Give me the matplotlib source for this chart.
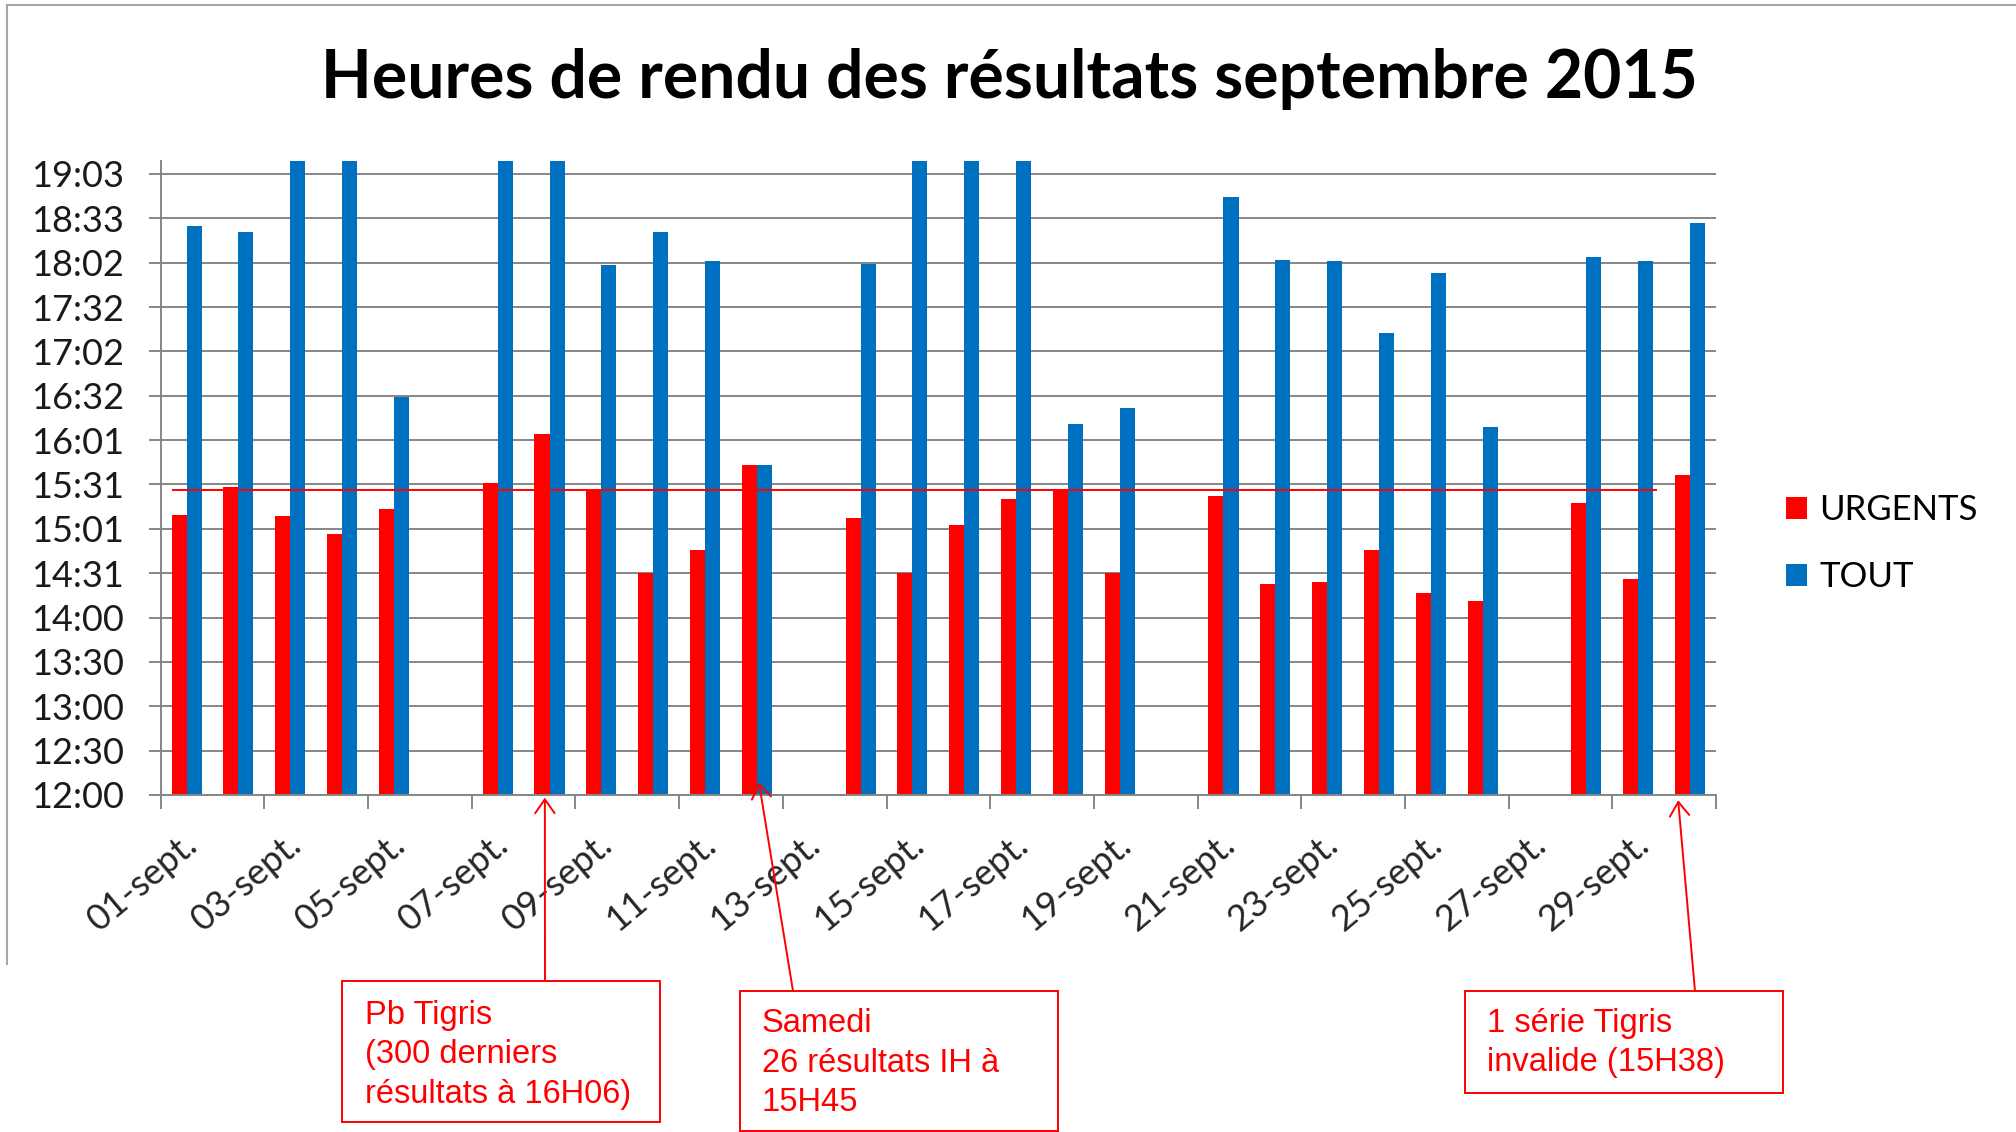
import matplotlib
matplotlib.use('Agg')
import matplotlib.pyplot as plt
from matplotlib.patches import Rectangle
from matplotlib.lines import Line2D
import matplotlib.transforms as mtransforms
import numpy as np

# ---------------- data ----------------
title = "Heures de rendu des résultats septembre 2015"
days = list(range(1, 31))
day_labels = [f"{d:02d}-sept." for d in days]
series_names = ["URGENTS", "TOUT"]
# times of delivery (HH:MM); None = no data (Sundays)
urgents = ['15:11', '15:30', '15:10', '14:58', '15:15', None, '15:33', '16:06', '15:28', '14:31',
           '14:47', '15:45', None, '15:09', '14:31', '15:04', '15:22', '15:28', '14:31', None,
           '15:24', '14:24', '14:25', '14:47', '14:18', '14:12', None, '15:19', '14:27', '15:38']
# values above 19:12 are cut off by the axis in the original (estimated)
tout = ['18:28', '18:24', '19:30', '19:30', '16:31', None, '19:30', '19:30', '18:01', '18:24',
        '18:04', '15:45', None, '18:02', '19:30', '19:30', '19:30', '16:13', '16:24', None,
        '18:48', '18:05', '18:04', '17:15', '17:56', '16:11', None, '18:07', '18:04', '18:30']
y_tick_labels = ['12:00', '12:30', '13:00', '13:30', '14:00', '14:31', '15:01', '15:31',
                 '16:01', '16:32', '17:02', '17:32', '18:02', '18:33', '19:03']
y_min_day, y_max_day, y_step_day = 0.5, 0.8, 0.021   # Excel axis in fractions of a day
target_time = '15:28'
target_span = (0.74, 29.34)
notes = ["Pb Tigris\n(300 derniers\nrésultats à 16H06)",
         "Samedi\n26 résultats IH à\n15H45",
         "1 série Tigris\ninvalide (15H38)"]
note_tips = [(7.91, 11.97), (12.04, 12.14), (29.77, 11.94)]   # (day, hour) pointed at


def to_hours(t):
    if t is None:
        return np.nan
    h, m = t.split(':')
    return int(h) + int(m) / 60.0


urg_h = np.array([to_hours(t) for t in urgents])
tout_h = np.array([to_hours(t) for t in tout])
x = np.array(days, dtype=float)

# ---------------- figure ----------------
W, H = 2016, 1132
plt.rcParams['font.family'] = ['Lato', 'DejaVu Sans']
fig = plt.figure(figsize=(W / 100, H / 100), dpi=100)
fig.patch.set_facecolor('white')

ax = fig.add_axes([160.7 / W, (H - 795) / H, (1716 - 160.7) / W, (795 - 161.3) / H])

RED = '#FF0000'
BLUE = '#0070C0'
GRAY = '#868686'

bw = 0.29
b1 = ax.bar(x - 0.145, urg_h, width=bw, color=RED, zorder=2)
b2 = ax.bar(x + 0.145, tout_h, width=bw, color=BLUE, zorder=2)

ax.set_xlim(0.5, 30.5)
ax.set_ylim(y_min_day * 24, y_max_day * 24)

yt = [(y_min_day + k * y_step_day) * 24 for k in range(len(y_tick_labels))]
ax.set_yticks(yt)
ax.set_yticklabels(y_tick_labels)
ax.tick_params(axis='y', length=8.6, width=1.4, color=GRAY, pad=18, labelsize=26,
               labelcolor='#1a1a1a')

ax.set_axisbelow(True)
ax.yaxis.grid(True, color=GRAY, lw=1.4)

# x axis: tick marks every 2 days at boundaries, labels on odd days
ax.set_xticks(np.arange(0.5, 31, 2))
ax.set_xticklabels([])
ax.tick_params(axis='x', which='major', length=10, width=1.4, color=GRAY, direction='out')
ax.set_xticks(x[::2], minor=True)
ax.set_xticklabels(day_labels[::2], minor=True, rotation=40, ha='right', va='top',
                   rotation_mode='anchor', fontsize=26, color='#262626')
ax.tick_params(axis='x', which='minor', length=0, pad=23)
off = mtransforms.ScaledTranslation(-0.04, 0, fig.dpi_scale_trans)
for lbl in ax.get_xticklabels(minor=True):
    lbl.set_transform(lbl.get_transform() + off)

for s in ['top', 'right']:
    ax.spines[s].set_visible(False)
for s in ['left', 'bottom']:
    ax.spines[s].set_color(GRAY)
    ax.spines[s].set_linewidth(1.4)

# target line
th = to_hours(target_time)
ax.plot(list(target_span), [th, th], color=RED, lw=1.4, zorder=3)

# legend
ax.legend([b1, b2], series_names, loc='center left', bbox_to_anchor=(1786 / W, 0.5197),
          bbox_transform=fig.transFigure, frameon=False, fontsize=25, handlelength=0.6,
          handleheight=0.6, handletextpad=0.36, labelspacing=1.02, borderpad=0,
          borderaxespad=0)

# title (fit to width)
t = fig.text(1009 / W, 1 - 98 / H, title, ha='center', va='baseline', fontsize=44,
             fontweight='bold', color='black')
r = fig.canvas.get_renderer()
wpx = t.get_window_extent(r).width
t.set_fontsize(44 * 1376 / wpx)

# annotation boxes (figure pixels, origin bottom-left)
boxes = [(342, 10, 318, 141), (740, 1, 318, 140), (1465, 39, 318, 102)]
text_pos = [(365, H - 1055), (762, H - 1063), (1487, H - 1043)]
arrow_start = [(545, H - 981), (793, H - 991), (1695, H - 991)]
for note, box, tp, st, tip in zip(notes, boxes, text_pos, arrow_start, note_tips):
    bx, by, bwid, bh = box
    fig.add_artist(Rectangle((bx / W, by / H), bwid / W, bh / H, transform=fig.transFigure,
                             fill=False, edgecolor=RED, lw=1.4))
    fig.text(tp[0] / W, tp[1] / H, note, ha='left', va='center', fontsize=23.5, color=RED,
             family=['Liberation Sans', 'DejaVu Sans'], linespacing=1.35)
    ax.annotate('', xy=tip, xycoords='data', xytext=st, textcoords='figure pixels',
                arrowprops=dict(arrowstyle='->,head_length=0.5,head_width=0.35', color=RED,
                                lw=1.4, shrinkA=0, shrinkB=0, mutation_scale=20),
                annotation_clip=False)

# page frame lines
fig.add_artist(Line2D([8 / W, 1], [1 - 5 / H, 1 - 5 / H], transform=fig.transFigure,
                      color='#A6A6A6', lw=1.5))
fig.add_artist(Line2D([7 / W, 7 / W], [1 - 5 / H, 1 - 964 / H], transform=fig.transFigure,
                      color='#A6A6A6', lw=1.5))

fig.savefig('out.png', dpi=100, facecolor='white')
